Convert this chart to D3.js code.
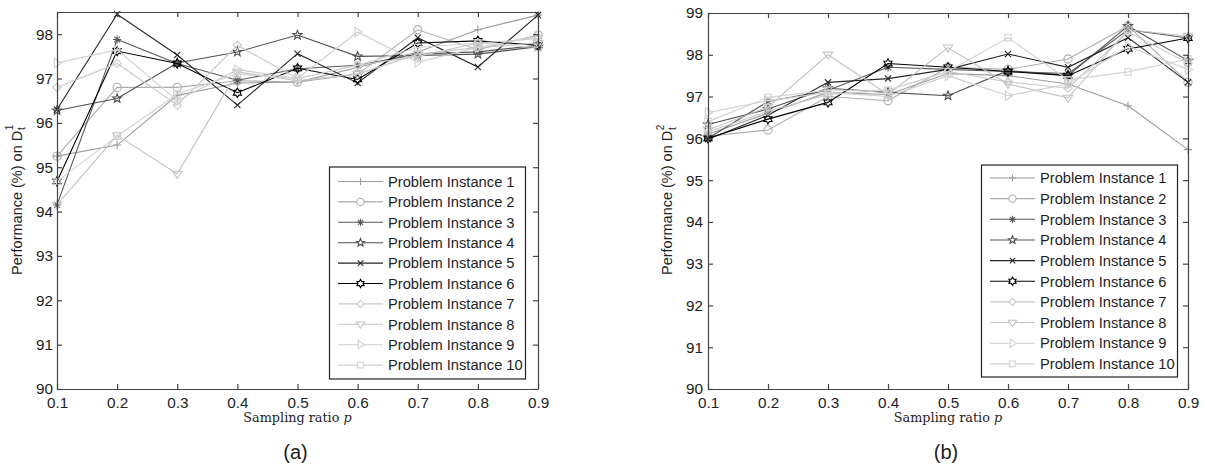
<!DOCTYPE html>
<html>
<head>
<meta charset="utf-8">
<script src="https://cdn.jsdelivr.net/npm/d3@7"></script>
<style>
  body { margin: 0; background: #fff; }
  svg text { font-family: "Liberation Sans", Arial, sans-serif; fill: #1e1e1e; }
  .axis path, .axis line { stroke: #444; stroke-width: 1.2; }
  .axis text { font-size: 15.3px; }
</style>
</head>
<body>
<svg id="chart" width="1205" height="469"></svg>
<script>
// sampling ratios on the x axis
const ratios = [0.1, 0.2, 0.3, 0.4, 0.5, 0.6, 0.7, 0.8, 0.9];
const instances = ["Problem Instance 1", "Problem Instance 2", "Problem Instance 3", "Problem Instance 4",
  "Problem Instance 5", "Problem Instance 6", "Problem Instance 7", "Problem Instance 8",
  "Problem Instance 9", "Problem Instance 10"];

// panel (a): performance on D_t^1
const perfA = [
  [95.25, 95.5, 96.62, 96.9, 96.92, 97.25, 97.6, 98.1, 98.43],
  [95.25, 96.8, 96.8, 96.95, 96.92, 97.1, 98.1, 97.65, 97.98],
  [94.15, 97.88, 97.34, 96.96, 97.22, 97.3, 97.55, 97.6, 97.75],
  [96.28, 96.55, 97.35, 97.6, 97.98, 97.5, 97.52, 97.55, 97.72],
  [96.3, 98.45, 97.53, 96.4, 97.56, 96.9, 97.92, 97.26, 98.43],
  [94.68, 97.62, 97.34, 96.68, 97.23, 96.98, 97.8, 97.85, 97.75],
  [96.8, 97.34, 96.4, 97.75, 97.0, 97.3, 97.5, 97.8, 97.9],
  [94.15, 95.72, 94.85, 97.15, 96.95, 97.1, 97.55, 97.7, 97.8],
  [97.35, 97.65, 96.5, 97.2, 97.0, 98.05, 97.37, 97.7, 97.95],
  [94.68, 95.7, 96.65, 97.1, 97.0, 97.3, 97.7, 97.8, 97.7]
];

// panel (b): performance on D_t^2
const perfB = [
  [96.1, 96.6, 97.1, 97.05, 97.55, 97.5, 97.3, 96.78, 95.73],
  [96.05, 96.2, 97.0, 96.9, 97.7, 97.65, 97.9, 98.69, 97.34],
  [96.0, 96.88, 97.15, 97.7, 97.65, 97.6, 97.55, 98.6, 98.4],
  [96.33, 96.7, 97.2, 97.1, 97.02, 97.62, 97.5, 98.69, 97.86],
  [95.98, 96.55, 97.34, 97.43, 97.65, 98.02, 97.7, 98.41, 97.34],
  [96.0, 96.46, 96.86, 97.79, 97.7, 97.6, 97.5, 98.14, 98.4],
  [96.15, 96.65, 97.05, 97.15, 97.6, 97.35, 97.2, 98.55, 97.8],
  [96.2, 96.75, 98.0, 97.05, 98.17, 97.3, 96.97, 98.6, 98.45],
  [96.62, 96.9, 97.1, 97.0, 97.5, 97.02, 97.3, 98.2, 97.65],
  [96.4, 96.98, 97.15, 97.15, 97.6, 98.41, 97.4, 97.59, 97.9]
];

const yTicksA = [90, 91, 92, 93, 94, 95, 96, 97, 98];
const yTicksB = [90, 91, 92, 93, 94, 95, 96, 97, 98, 99];

// line colours and marker shapes (matlab style)
const colors = ["#9c9c9c", "#adadad", "#5a5a5a", "#505050", "#262626", "#000000",
  "#c8c8c8", "#c4c4c4", "#cecece", "#d3d3d3"];
const markers = ["plus", "circle", "asterisk", "star", "times", "hexagram",
  "diamond", "triDown", "triRight", "square"];

function polygon(ctx, pts) {
  ctx.moveTo(pts[0][0], pts[0][1]);
  pts.slice(1).forEach(p => ctx.lineTo(p[0], p[1]));
  ctx.closePath();
}
function starPts(n, ro, ri) {
  const pts = [];
  for (let i = 0; i < 2 * n; i++) {
    const a = -Math.PI / 2 + i * Math.PI / n;
    const r = i % 2 === 0 ? ro : ri;
    pts.push([r * Math.cos(a), r * Math.sin(a)]);
  }
  return pts;
}
const symbolTypes = {
  plus: { draw(ctx, s) { const r = Math.sqrt(s); ctx.moveTo(-r, 0); ctx.lineTo(r, 0); ctx.moveTo(0, -r); ctx.lineTo(0, r); } },
  circle: { draw(ctx, s) { const r = Math.sqrt(s); ctx.moveTo(r, 0); ctx.arc(0, 0, r, 0, 2 * Math.PI); } },
  asterisk: { draw(ctx, s) {
    const r = Math.sqrt(s), d = r * 0.7;
    ctx.moveTo(-r, 0); ctx.lineTo(r, 0); ctx.moveTo(0, -r); ctx.lineTo(0, r);
    ctx.moveTo(-d, -d); ctx.lineTo(d, d); ctx.moveTo(-d, d); ctx.lineTo(d, -d);
  } },
  star: { draw(ctx, s) { const r = Math.sqrt(s) * 1.15; polygon(ctx, starPts(5, r, r * 0.42)); } },
  times: { draw(ctx, s) { const d = Math.sqrt(s) * 0.75; ctx.moveTo(-d, -d); ctx.lineTo(d, d); ctx.moveTo(-d, d); ctx.lineTo(d, -d); } },
  hexagram: { draw(ctx, s) { const r = Math.sqrt(s) * 1.15; polygon(ctx, starPts(6, r, r * 0.58)); } },
  diamond: { draw(ctx, s) { const r = Math.sqrt(s); polygon(ctx, [[0, -r], [r, 0], [0, r], [-r, 0]]); } },
  triDown: { draw(ctx, s) { const r = Math.sqrt(s) * 1.15; polygon(ctx, [[-r, -r * 0.55], [r, -r * 0.55], [0, r * 0.95]]); } },
  triRight: { draw(ctx, s) { const r = Math.sqrt(s) * 1.15; polygon(ctx, [[-r * 0.55, -r], [-r * 0.55, r], [r * 0.95, 0]]); } },
  square: { draw(ctx, s) { const h = Math.sqrt(s) * 0.78; polygon(ctx, [[-h, -h], [h, -h], [h, h], [-h, h]]); } }
};

const svg = d3.select("#chart");

const panels = [
  { values: perfA, yTicks: yTicksA, yMax: 98.5, left: 57, right: 538, top: 12, bottom: 389,
    sup: "1", ylabX: 21.5, yPad: 4, letter: "(a)",
    legend: { x: 329.5, y: 167, w: 196, h: 212, row0: 181.5, step: 20.4 } },
  { values: perfB, yTicks: yTicksB, yMax: 99, left: 708, right: 1188, top: 13, bottom: 389,
    sup: "2", ylabX: 672, yPad: 5, letter: "(b)",
    legend: { x: 981.5, y: 165, w: 196, h: 212, row0: 178, step: 20.65 } }
];

panels.forEach(p => {
  const x = d3.scaleLinear().domain([0.1, 0.9]).range([p.left, p.right]);
  const y = d3.scaleLinear().domain([90, p.yMax]).range([p.bottom, p.top]);
  const g = svg.append("g");

  // data lines + markers
  const line = d3.line().x((d, i) => x(ratios[i])).y(d => y(d));
  p.values.forEach((vals, k) => {
    const sym = d3.symbol().type(symbolTypes[markers[k]]).size(17);
    g.append("path")
      .attr("d", line(vals))
      .attr("fill", "none")
      .attr("stroke", colors[k])
      .attr("stroke-width", 1.1);
    g.selectAll(null)
      .data(vals)
      .enter().append("path")
      .attr("transform", (d, i) => `translate(${x(ratios[i])},${y(d)})`)
      .attr("d", sym)
      .attr("fill", "none")
      .attr("stroke", colors[k])
      .attr("stroke-width", 1.1);
  });

  // axes as a closed box with inward ticks
  g.append("g").attr("class", "axis")
    .attr("transform", `translate(0,${p.bottom})`)
    .call(d3.axisBottom(x).tickValues(ratios).tickFormat(d3.format(".1f")).tickSizeInner(-5).tickSizeOuter(0).tickPadding(8.5));
  g.append("g").attr("class", "axis")
    .attr("transform", `translate(0,${p.top})`)
    .call(d3.axisTop(x).tickValues(ratios).tickFormat("").tickSizeInner(-5).tickSizeOuter(0));
  g.append("g").attr("class", "axis")
    .attr("transform", `translate(${p.left},0)`)
    .call(d3.axisLeft(y).tickValues(p.yTicks).tickFormat(d3.format("d")).tickSizeInner(-5).tickSizeOuter(0).tickPadding(p.yPad));
  g.append("g").attr("class", "axis")
    .attr("transform", `translate(${p.right},0)`)
    .call(d3.axisRight(y).tickValues(p.yTicks).tickFormat("").tickSizeInner(-5).tickSizeOuter(0));

  // y label with stacked sub/superscript
  const yl = g.append("g").attr("transform", `translate(${p.ylabX},275) rotate(-90)`);
  const main = yl.append("text").attr("x", 0).attr("y", 0).style("font-size", "14.5px").text("Performance (%) on D");
  const len = main.node().getComputedTextLength();
  yl.append("text").attr("x", len + 0.5).attr("y", -8.5).style("font-size", "10px").text(p.sup);
  yl.append("text").attr("x", len + 0.8).attr("y", 3.5).style("font-size", "10px").text("t");

  // x label
  const cx = (p.left + p.right) / 2;
  const xl = g.append("text")
    .attr("x", cx).attr("y", 421.5)
    .attr("text-anchor", "middle")
    .style("font-family", "'DejaVu Serif', 'Liberation Serif', serif")
    .style("font-size", "12.8px");
  xl.append("tspan").text("Sampling ratio ");
  xl.append("tspan").style("font-style", "italic").text("p");

  g.append("text")
    .attr("x", cx - 2).attr("y", 459)
    .attr("text-anchor", "middle")
    .style("font-size", "20px")
    .text(p.letter);

  // legend
  const L = p.legend;
  const lg = g.append("g");
  lg.append("rect")
    .attr("x", L.x).attr("y", L.y).attr("width", L.w).attr("height", L.h)
    .attr("fill", "#fff").attr("stroke", "#222").attr("stroke-width", 1.2);
  instances.forEach((name, k) => {
    const ry = L.row0 + k * L.step;
    lg.append("line")
      .attr("x1", L.x + 8.5).attr("x2", L.x + 53.5).attr("y1", ry).attr("y2", ry)
      .attr("stroke", colors[k]).attr("stroke-width", 1.1);
    lg.append("path")
      .attr("transform", `translate(${L.x + 31},${ry})`)
      .attr("d", d3.symbol().type(symbolTypes[markers[k]]).size(13)())
      .attr("fill", "#fff").attr("stroke", colors[k]).attr("stroke-width", 1.1);
    lg.append("text")
      .attr("x", L.x + 58.5).attr("y", ry).attr("dy", "0.36em")
      .style("font-size", "14.7px")
      .text(name);
  });
});
</script>
</body>
</html>
